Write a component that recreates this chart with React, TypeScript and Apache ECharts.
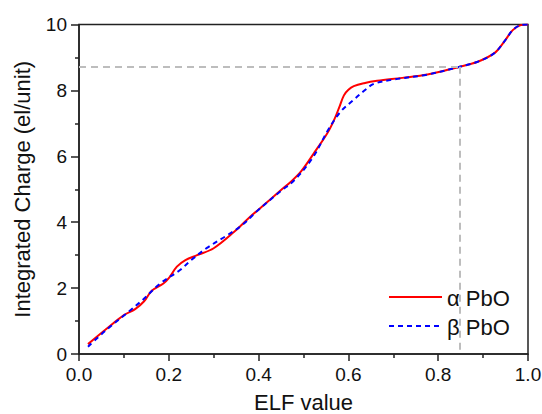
import React, { useEffect, useRef } from "react";
import * as echarts from "echarts";

// α PbO : [ELF value, integrated charge]
const alphaPbO: [number, number][] = [
  [0.02, 0.3], [0.06, 0.75], [0.1, 1.18], [0.125, 1.36], [0.145, 1.6], [0.162, 1.92],
  [0.188, 2.14], [0.2, 2.3], [0.218, 2.65], [0.237, 2.85], [0.263, 3.0], [0.3, 3.21],
  [0.345, 3.7], [0.38, 4.15], [0.42, 4.62], [0.45, 4.98], [0.472, 5.23], [0.495, 5.55],
  [0.523, 6.09], [0.553, 6.7], [0.568, 7.1], [0.58, 7.5], [0.59, 7.85], [0.6, 8.02],
  [0.612, 8.13], [0.635, 8.22], [0.664, 8.29], [0.72, 8.38], [0.776, 8.48], [0.848, 8.72],
  [0.888, 8.87], [0.925, 9.13], [0.947, 9.48], [0.966, 9.83], [0.984, 9.98], [1.0, 10.0],
];

// β PbO : [ELF value, integrated charge]
const betaPbO: [number, number][] = [
  [0.02, 0.22], [0.06, 0.72], [0.103, 1.2], [0.14, 1.62], [0.181, 2.14], [0.225, 2.55],
  [0.25, 2.85], [0.285, 3.22], [0.325, 3.56], [0.363, 3.91], [0.4, 4.38], [0.45, 4.95],
  [0.48, 5.28], [0.52, 5.95], [0.557, 6.85], [0.583, 7.36], [0.612, 7.72], [0.635, 7.99],
  [0.657, 8.2], [0.7, 8.33], [0.776, 8.48], [0.848, 8.72], [0.888, 8.87], [0.925, 9.13],
  [0.947, 9.48], [0.966, 9.83], [0.984, 9.98], [1.0, 10.0],
];

const refELF = 0.848;
const refCharge = 8.72;

const seriesNames = ["α PbO", "β PbO"];
const xTitle = "ELF value";
const yTitle = "Integrated Charge (el/unit)";

const FONT = "Liberation Sans, Arial, sans-serif";
const AXIS_COLOR = "#222222";
const W = 542, H = 414;
const G = { left: 79, right: 14, top: 24.5, bottom: 60 };

export default function App() {
  const ref = useRef<HTMLDivElement>(null);
  useEffect(() => {
    if (!ref.current) return;
    const chart = echarts.init(ref.current, null, { renderer: "svg" });
    chart.setOption({
      animation: false,
      grid: {
        ...G, outerBoundsMode: "none", containLabel: false,
        show: true, borderColor: AXIS_COLOR, borderWidth: 1.5, backgroundColor: "transparent",
      },
      xAxis: {
        type: "value", min: 0, max: 1, interval: 0.2,
        axisLine: { show: true, onZero: false, lineStyle: { color: AXIS_COLOR, width: 1.5 } },
        splitLine: { show: false },
        axisTick: { show: true, inside: false, length: 7, lineStyle: { color: AXIS_COLOR, width: 1.5 } },
        minorTick: { show: true, splitNumber: 2, length: 4, lineStyle: { color: AXIS_COLOR, width: 1.5 } },
        axisLabel: { show: true, color: "#111", fontSize: 19, fontFamily: FONT, margin: 11, formatter: (v: number) => v.toFixed(1) },
        name: xTitle, nameLocation: "middle", nameGap: 37,
        nameTextStyle: { color: "#111", fontSize: 22, fontFamily: FONT },
      },
      yAxis: {
        type: "value", min: 0, max: 10, interval: 2,
        axisLine: { show: true, onZero: false, lineStyle: { color: AXIS_COLOR, width: 1.5 } },
        splitLine: { show: false },
        axisTick: { show: true, inside: false, length: 8, lineStyle: { color: AXIS_COLOR, width: 1.5 } },
        minorTick: { show: true, splitNumber: 2, length: 4, lineStyle: { color: AXIS_COLOR, width: 1.5 } },
        axisLabel: { show: true, color: "#111", fontSize: 19, fontFamily: FONT, margin: 12 },
        name: yTitle, nameLocation: "middle", nameGap: 46,
        nameTextStyle: { color: "#111", fontSize: 22, fontFamily: FONT },
      },
      series: [
        {
          type: "line", data: [], z: 1, silent: true,
          markLine: {
            silent: true, symbol: "none", label: { show: false },
            lineStyle: { color: "#bdbdbd", type: [7, 5], width: 2 },
            data: [
              [{ coord: [0, refCharge] }, { coord: [refELF, refCharge] }],
              [{ coord: [refELF, refCharge] }, { coord: [refELF, 0] }],
            ],
          },
        },
        {
          name: seriesNames[0], type: "line", data: alphaPbO, smooth: 0.35,
          symbol: "none", z: 3,
          lineStyle: { color: "#ff0000", width: 2 },
        },
        {
          name: seriesNames[1], type: "line", data: betaPbO, smooth: 0.35,
          symbol: "none", z: 4,
          lineStyle: { color: "#0000ff", width: 2, type: [5, 4] },
        },
      ],
      graphic: [
        { type: "line", shape: { x1: 389, y1: 297, x2: 442, y2: 297 }, style: { stroke: "#ff0000", lineWidth: 2 } },
        { type: "text", x: 447, y: 298, style: { text: seriesNames[0], fontSize: 22, fontFamily: FONT, fill: "#111", verticalAlign: "middle" } },
        { type: "line", shape: { x1: 389, y1: 326, x2: 442, y2: 326 }, style: { stroke: "#0000ff", lineWidth: 2, lineDash: [5, 4] } },
        { type: "text", x: 447, y: 327, style: { text: seriesNames[1], fontSize: 22, fontFamily: FONT, fill: "#111", verticalAlign: "middle" } },
      ],
    });
    return () => chart.dispose();
  }, []);
  return <div ref={ref} style={{ position: "fixed", left: 0, top: 0, width: W, height: H, background: "#fff" }} />;
}
